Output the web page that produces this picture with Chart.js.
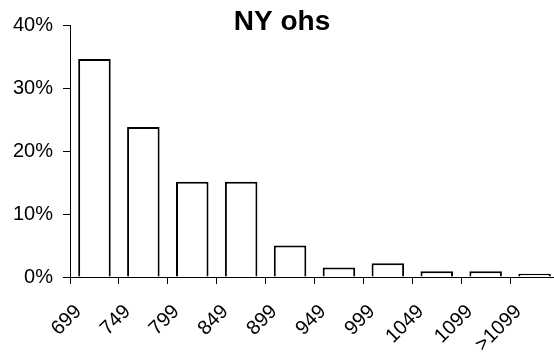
<!DOCTYPE html>
<html>
<head>
<meta charset="utf-8">
<script src="https://cdn.jsdelivr.net/npm/chart.js@4.4.0/dist/chart.umd.min.js"></script>
<style>
  html, body { margin: 0; padding: 0; background: #fff; overflow: hidden; }
  #wrap { width: 554px; height: 353px; overflow: hidden; }
</style>
</head>
<body>
<div id="wrap"><canvas id="ohsChart" width="560" height="353"></canvas></div>
<script>
// values
const chartTitle = 'NY ohs';
const categories = ['699', '749', '799', '849', '899', '949', '999', '1049', '1099', '>1099'];
const shares = [0.346, 0.238, 0.151, 0.151, 0.050, 0.015, 0.022, 0.009, 0.009, 0.005];
const yTicks = [0, 0.1, 0.2, 0.3, 0.4];

const FONT = "'Liberation Sans', Arial, sans-serif";

// title sits over the plot area, so draw it by hand
const titlePlugin = {
    id: 'overTitle',
    afterDraw(chart) {
        const c = chart.ctx;
        c.save();
        c.font = 'bold 28px ' + FONT;
        c.fillStyle = '#000';
        c.textAlign = 'center';
        c.textBaseline = 'middle';
        c.fillText(chartTitle, 282, 22);
        c.restore();
    }
};

const ctx = document.getElementById('ohsChart').getContext('2d');
const ohsChart = new Chart(ctx, {
    type: 'bar',
    data: {
        labels: categories,
        datasets: [{
            data: shares,
            backgroundColor: '#fff',
            borderColor: '#000',
            borderWidth: 2,
            barPercentage: 0.665,
            categoryPercentage: 1
        }]
    },
    options: {
        responsive: false,
        animation: false,
        layout: { padding: { top: 25, right: 1, left: 0, bottom: 0 } },
        plugins: {
            legend: { display: false },
            tooltip: { enabled: false }
        },
        scales: {
            x: {
                offset: true,
                grid: { offset: true, drawOnChartArea: false, tickLength: 7, color: '#000' },
                border: { color: '#000', width: 1 },
                ticks: {
                    color: '#000',
                    font: { family: FONT, size: 20 },
                    minRotation: 45,
                    maxRotation: 45,
                    autoSkip: false,
                    padding: 16,
                    labelOffset: -16
                },
                afterFit(scale) {
                    scale.height = 76;
                    scale.paddingLeft = 0;
                    scale.paddingRight = 0;
                }
            },
            y: {
                min: 0,
                max: 0.4,
                afterBuildTicks(scale) { scale.ticks = yTicks.map(v => ({ value: v })); },
                grid: { drawOnChartArea: false, tickLength: 7, color: '#000' },
                border: { color: '#000', width: 1 },
                ticks: {
                    color: '#000',
                    font: { family: FONT, size: 20 },
                    padding: 10,
                    callback: v => Math.round(v * 100) + '%'
                },
                afterFit(scale) { scale.width = 70; }
            }
        }
    },
    plugins: [titlePlugin]
});
</script>
</body>
</html>
